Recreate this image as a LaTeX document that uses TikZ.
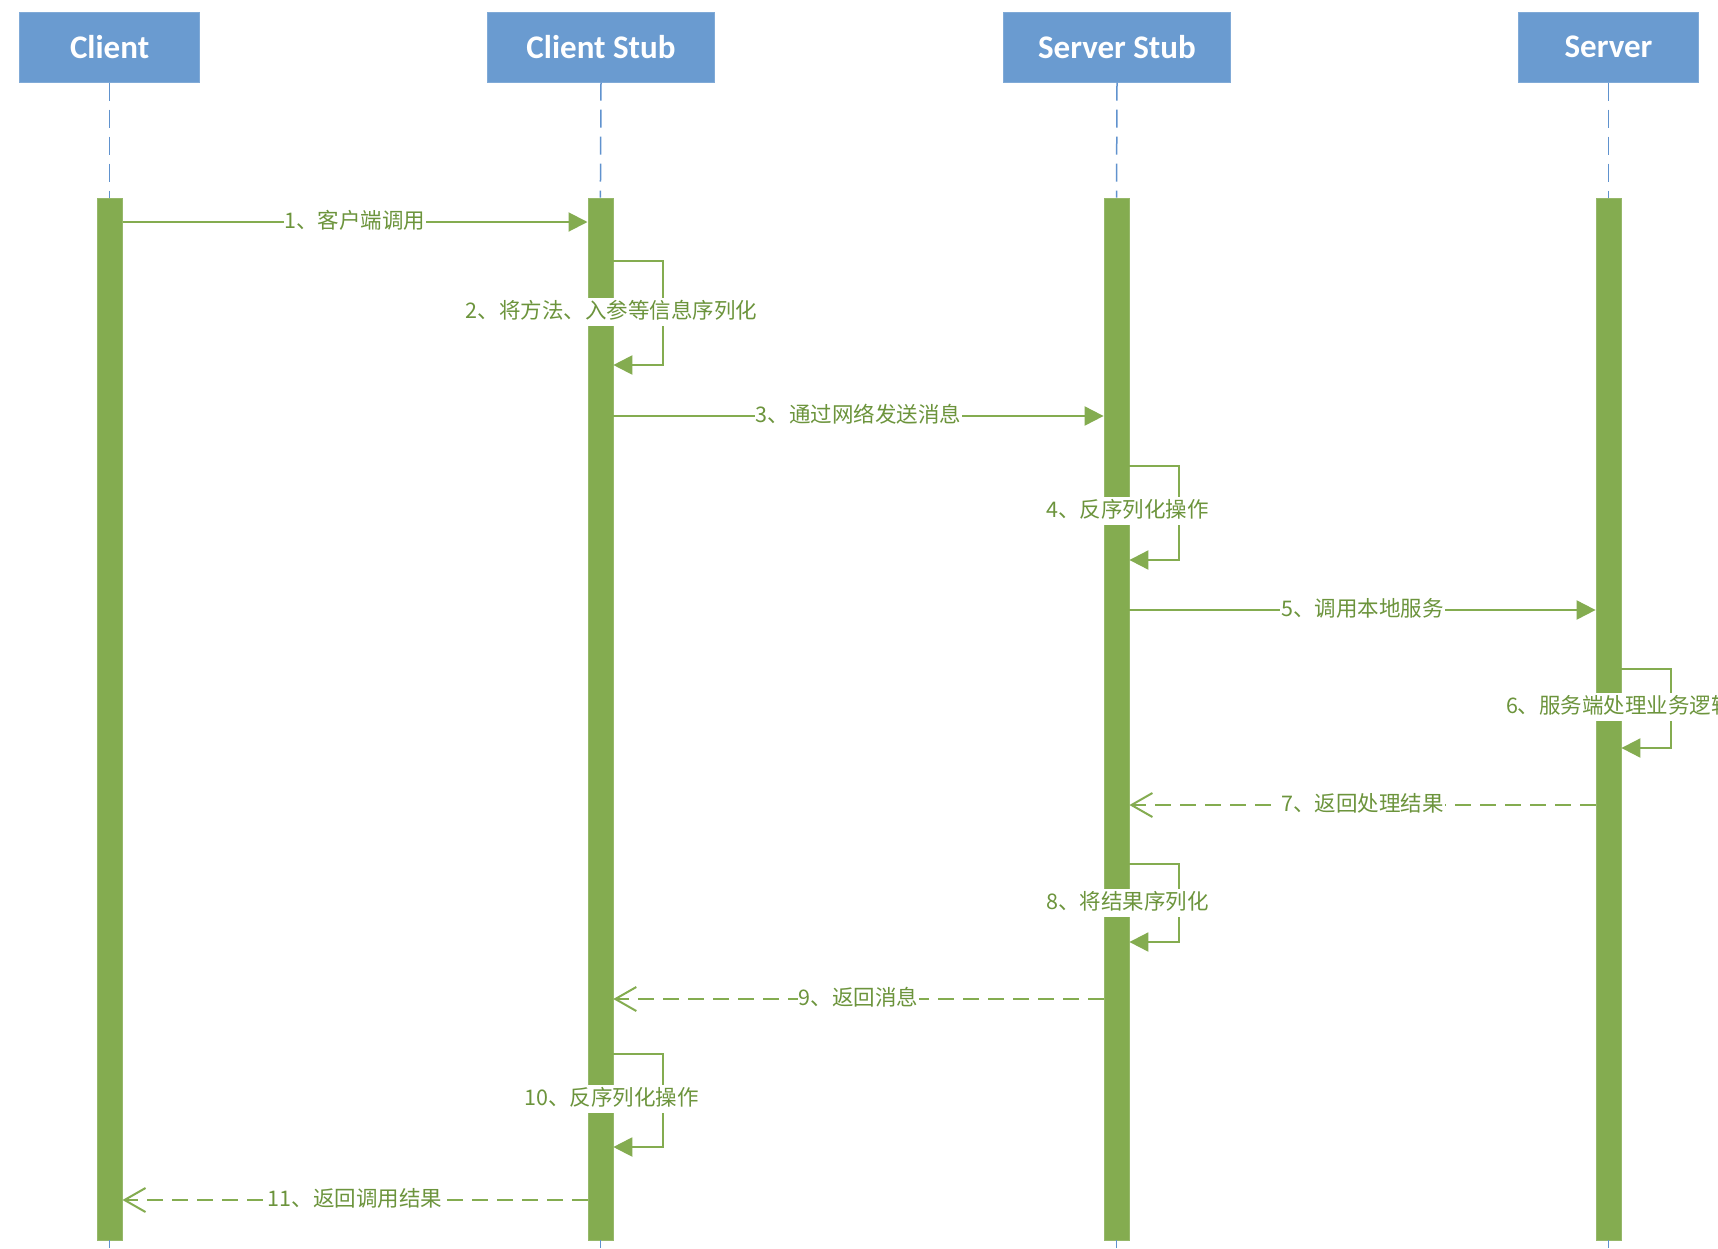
\documentclass[tikz,border=0pt]{standalone}
\usepackage{fontspec}
\setmainfont{Carlito}
\newfontfamily\cjk{Noto Sans CJK SC}
\usetikzlibrary{arrows.meta,calc}
\definecolor{boxblue}{RGB}{106,155,208}
\definecolor{bargreen}{RGB}{132,172,80}
\definecolor{txtgreen}{RGB}{108,148,60}
\definecolor{lifeblue}{RGB}{96,146,206}
\begin{document}
\begin{tikzpicture}[x=1pt,y=-1pt,
  head/.style={draw=boxblue!85!white, line width=1pt, fill=boxblue, minimum width=#1, minimum height=70pt, inner sep=0pt, text=white, font=\bfseries\fontsize{33}{36}\selectfont},
  bar/.style={fill=bargreen, draw=bargreen!85!white, line width=0.8pt, minimum width=25pt, minimum height=1042pt, inner sep=0pt},
  life/.style={draw=lifeblue, line width=1.5pt, dash pattern=on 18pt off 9pt},
  msg/.style={draw=bargreen, line width=2pt, -{Triangle[length=19pt,width=19pt]}},
  ret/.style={draw=bargreen, line width=2pt, dash pattern=on 16pt off 9pt, -{Straight Barb[length=21pt,width=24pt]}},
  lbl/.style={fill=white, text=txtgreen, font=\cjk\fontsize{21.5}{24}\selectfont, inner xsep=1pt, inner ysep=3pt, text height=17pt, text depth=5pt}]
\useasboundingbox (0,0) rectangle (1718,1248);
\fill[white] (0,0) rectangle (1718,1248);
% heads
\node[head=180pt] (c)  at (109.6,47) {Client};
\node[head=227pt] (cs) at (601,47) {Client Stub};
\node[head=227pt] (ss) at (1117,47) {Server Stub};
\node[head=180pt] (s)  at (1608.5,47) {Server};
\coordinate (bot) at (0,1248);
% bars
\node[bar] (cb)  at (109.6,719) {};
\node[bar] (csb) at (600.4,719) {};
\node[bar] (ssb) at (1116.5,719) {};
\node[bar] (sb)  at (1608.5,719) {};
% lifelines
\foreach \h/\b in {c/cb, cs/csb, ss/ssb, s/sb}{
  \draw[life] (\h.south) -- (\b.north);
  \draw[life] (\b.south) -- (\b.south |- bot);
}
% message y positions
\coordinate (y1) at (0,222);
\coordinate (y2a) at (0,261); \coordinate (y2l) at (0,312); \coordinate (y2b) at (0,365);
\coordinate (y3) at (0,416);
\coordinate (y4a) at (0,466); \coordinate (y4l) at (0,511); \coordinate (y4b) at (0,560);
\coordinate (y5) at (0,610);
\coordinate (y6a) at (0,669); \coordinate (y6l) at (0,707); \coordinate (y6b) at (0,748);
\coordinate (y7) at (0,805);
\coordinate (y8a) at (0,864); \coordinate (y8l) at (0,903); \coordinate (y8b) at (0,942);
\coordinate (y9) at (0,999);
\coordinate (y10a) at (0,1054); \coordinate (y10l) at (0,1099); \coordinate (y10b) at (0,1147);
\coordinate (y11) at (0,1200);
% messages
\draw[msg] (cb.east |- y1) -- node[lbl] {1、客户端调用} (csb.west |- y1);
\draw[msg] (csb.east |- y2a) -- ++(50,0) |- (csb.east |- y2b);
\draw[msg] (csb.east |- y3) -- node[lbl] {3、通过网络发送消息} (ssb.west |- y3);
\draw[msg] (ssb.east |- y4a) -- ++(50,0) |- (ssb.east |- y4b);
\draw[msg] (ssb.east |- y5) -- node[lbl] {5、调用本地服务} (sb.west |- y5);
\draw[msg] (sb.east |- y6a) -- ++(50,0) |- (sb.east |- y6b);
\draw[ret] (sb.west |- y7) -- node[lbl] {7、返回处理结果} (ssb.east |- y7);
\draw[msg] (ssb.east |- y8a) -- ++(50,0) |- (ssb.east |- y8b);
\draw[ret] (ssb.west |- y9) -- node[lbl] {9、返回消息} (csb.east |- y9);
\draw[msg] (csb.east |- y10a) -- ++(50,0) |- (csb.east |- y10b);
\draw[ret] (csb.west |- y11) -- node[lbl] {11、返回调用结果} (cb.east |- y11);
% self-call labels
\node[lbl] (l2)  at ($(csb.center |- y2l)+(11,0)$) {2、将方法、入参等信息序列化};
\node[lbl] (l4)  at ($(ssb.center |- y4l)+(11,0)$) {4、反序列化操作};
\node[lbl] (l6)  at ($(sb.center |- y6l)+(11,0)$) {6、服务端处理业务逻辑};
\node[lbl] (l8)  at ($(ssb.center |- y8l)+(11,0)$) {8、将结果序列化};
\node[lbl] (l10) at ($(csb.center |- y10l)+(11,0)$) {10、反序列化操作};
\end{tikzpicture}
\end{document}
